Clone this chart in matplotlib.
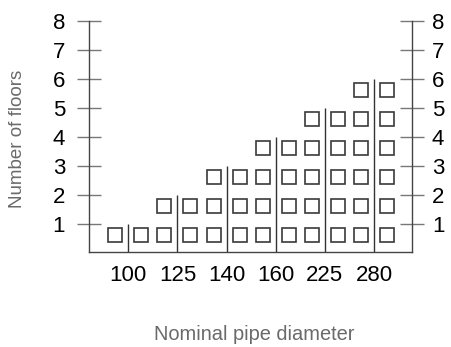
import matplotlib
matplotlib.use("Agg")
import matplotlib.pyplot as plt
import matplotlib.transforms as mtransforms

diameters = ["100", "125", "140", "160", "225", "280"]
floors = [1, 2, 3, 4, 5, 6]
yticks = [1, 2, 3, 4, 5, 6, 7, 8]

plt.rcParams['font.family'] = ['Liberation Sans', 'DejaVu Sans']

fig = plt.figure(figsize=(4.51, 3.47), dpi=100)
ax = fig.add_axes([0.1973, 0.2752, 0.7169, 0.6651])

x = list(range(len(diameters)))
for xi, f in zip(x, floors):
    ax.vlines(xi, 0, f, color='#333333', lw=1.0, zorder=2)
    rows = list(range(1, f + 1))
    ys = [r - 0.38 for r in rows]
    for off in (-0.265, 0.265):
        ax.plot([xi + off] * len(ys), ys, ls='none', marker='s', ms=10.4,
                mfc='white', mec='#3a3a3a', mew=1.2, zorder=3)

ax.set_xlim(-0.8, 5.78)
ax.set_ylim(0.05, 8)
ax.set_xticks(x)
ax.set_xticklabels(diameters, fontsize=16)
ax.tick_params(axis='x', length=0, pad=9.5)
ax.set_yticks(yticks)
ax.set_yticklabels([str(t) for t in yticks], fontsize=16)
ax.tick_params(axis='y', direction='inout', length=17.3, width=1.0,
               color='#777777', left=True, right=True,
               labelleft=True, labelright=True, pad=8.6)
shift = mtransforms.ScaledTranslation(-3.2 / 72, 0, fig.dpi_scale_trans)
for t in ax.yaxis.get_major_ticks():
    t.label2.set_transform(t.label2.get_transform() + shift)
for side in ('left', 'right', 'bottom'):
    ax.spines[side].set_color('#444444')
    ax.spines[side].set_linewidth(1.0)
ax.spines['top'].set_visible(False)

fig.text(18 / 451, 1 - 208.5 / 347, "Number of floors", rotation=90,
         ha='center', va='bottom', fontsize=13.5, color='#6a6a6a')
fig.text(153.5 / 451, 1 - 340 / 347, "Nominal pipe diameter", ha='left',
         va='baseline', fontsize=14.4, color='#6a6a6a')

fig.savefig("out.png", dpi=100)
